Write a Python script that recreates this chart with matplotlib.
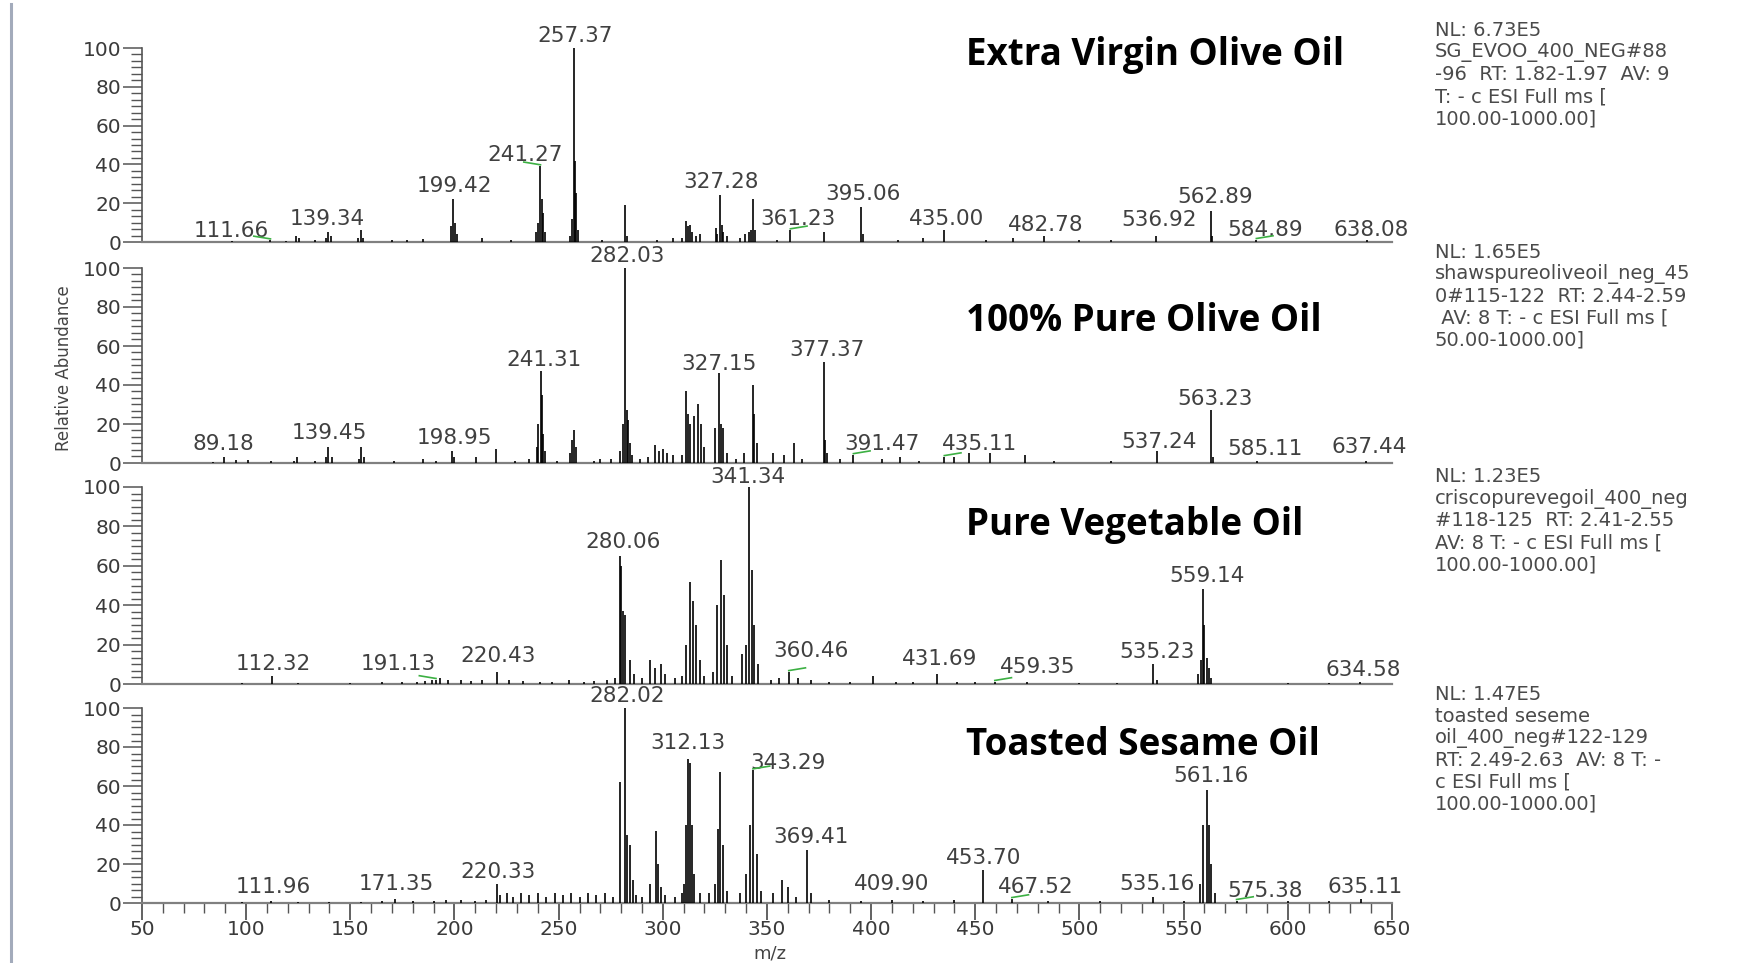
import matplotlib
matplotlib.use("Agg")
import matplotlib.pyplot as plt
from matplotlib.ticker import MultipleLocator
from matplotlib.lines import Line2D

# ---------------- DATA ----------------
titles = ["Extra Virgin Olive Oil", "100% Pure Olive Oil", "Pure Vegetable Oil", "Toasted Sesame Oil"]

info_texts = [
    ["NL: 6.73E5", "SG_EVOO_400_NEG#88", "-96  RT: 1.82-1.97  AV: 9", "T: - c ESI Full ms [", "100.00-1000.00]"],
    ["NL: 1.65E5", "shawspureoliveoil_neg_45", "0#115-122  RT: 2.44-2.59", " AV: 8 T: - c ESI Full ms [", "50.00-1000.00]"],
    ["NL: 1.23E5", "criscopurevegoil_400_neg", "#118-125  RT: 2.41-2.55", "AV: 8 T: - c ESI Full ms [", "100.00-1000.00]"],
    ["NL: 1.47E5", "toasted seseme", "oil_400_neg#122-129", "RT: 2.49-2.63  AV: 8 T: -", "c ESI Full ms [", "100.00-1000.00]"],
]

x_ticks = [50, 100, 150, 200, 250, 300, 350, 400, 450, 500, 550, 600, 650]
y_ticks = [0, 20, 40, 60, 80, 100]

evoo_mz = [
    93.0, 111.66, 119.0, 124.0, 125.2, 133.0, 138.2, 139.34, 140.5, 153.8,
    155.0, 156.2, 170.0, 177.0, 185.0, 198.4, 199.42, 200.4, 201.4, 213.0,
    227.0, 239.3, 240.3, 241.27, 241.8, 242.3, 243.3, 255.3, 256.4, 257.37,
    257.8, 258.4, 259.4, 271.0, 282.03, 283.0, 297.0, 305.0, 309.0, 311.3,
    312.2, 313.2, 314.0, 316.0, 318.0, 325.3, 326.2, 327.28, 328.2, 329.0,
    331.0, 337.0, 339.5, 341.2, 342.2, 343.3, 344.2, 355.0, 361.23, 377.3,
    395.06, 396.0, 413.0, 425.0, 435.0, 455.0, 468.0, 482.78, 500.0, 515.0,
    536.92, 562.89, 563.8, 584.89, 638.08]
evoo_int = [
    0.5, 0.8, 0.5, 3, 2, 1, 2, 5, 3, 2,
    6, 2, 1, 1, 1.5, 8, 22, 10, 4, 2,
    1, 5, 10, 39, 22, 15, 5, 3, 12, 100,
    42, 25, 6, 1, 19, 3, 1, 2, 2, 11,
    8, 9, 5, 3, 4, 7, 4, 24, 9, 5,
    3, 2, 4, 5, 6, 22, 6, 1, 6, 5,
    18, 4, 1, 2, 6, 1, 2, 3, 1, 1,
    3, 16, 3, 1, 1]

pure_mz = [
    84.0, 89.18, 95.0, 101.0, 112.0, 123.0, 124.5, 133.0, 138.3, 139.45,
    141.0, 154.0, 155.2, 156.5, 171.0, 185.0, 191.0, 198.95, 200.0, 210.5,
    220.0, 229.0, 236.0, 239.5, 240.3, 241.31, 241.8, 242.5, 243.5, 249.0,
    255.5, 256.5, 257.3, 258.2, 267.0, 270.0, 275.0, 279.5, 281.0, 282.03,
    282.6, 283.3, 284.0, 285.0, 289.0, 293.0, 296.0, 298.0, 300.0, 302.0,
    305.0, 309.0, 311.0, 312.0, 313.2, 315.0, 317.0, 318.2, 320.0, 325.0,
    327.15, 328.0, 329.0, 331.0, 335.0, 339.0, 343.4, 344.0, 345.0, 353.0,
    358.0, 363.0, 367.0, 377.37, 378.0, 379.0, 385.0, 391.47, 405.0, 414.0,
    423.0, 435.11, 440.0, 447.0, 457.0, 474.0, 488.0, 515.0, 537.24, 563.23,
    564.0, 585.11, 637.44]
pure_int = [
    0.5, 3, 1.5, 1.5, 0.8, 1, 3, 1, 3, 8,
    3, 2, 8, 3, 1, 2, 1, 6, 3, 3,
    7, 1, 2, 8, 20, 47, 35, 15, 6, 1,
    5, 12, 17, 8, 1, 2, 2, 6, 20, 100,
    27, 22, 10, 4, 2, 3, 9, 6, 7, 5,
    4, 4, 37, 25, 20, 24, 30, 20, 8, 18,
    46, 20, 18, 5, 2, 5, 40, 25, 10, 5,
    4, 10, 2, 52, 12, 5, 2, 4, 2, 3,
    1, 3, 3, 5, 5, 4, 1, 1, 6, 27,
    3, 1, 1]

veg_mz = [
    98.0, 112.32, 125.0, 150.0, 165.0, 175.0, 182.0, 186.0, 189.0, 191.13,
    193.0, 197.0, 203.0, 208.0, 213.0, 220.43, 226.0, 233.0, 241.0, 247.0,
    255.0, 262.0, 267.0, 273.0, 277.0, 279.6, 280.06, 281.0, 282.0, 284.0,
    286.0, 290.0, 294.0, 296.0, 299.0, 301.0, 306.0, 309.0, 311.0, 313.0,
    314.5, 316.0, 318.0, 320.0, 324.0, 326.0, 327.8, 329.5, 331.0, 333.0,
    338.0, 340.0, 341.34, 343.0, 344.0, 345.6, 352.0, 356.0, 360.46, 365.0,
    371.0, 380.0, 390.0, 401.0, 412.0, 420.0, 431.69, 441.0, 450.0, 459.35,
    475.0, 500.0, 518.0, 535.23, 537.0, 557.0, 558.2, 559.14, 559.8, 561.0,
    562.0, 563.0, 600.0, 620.0, 634.58]
veg_int = [
    0.5, 4, 0.5, 0.5, 1, 1, 1, 1.5, 2, 2,
    3, 2, 2, 1.5, 2, 6, 2, 1.5, 1, 1,
    2, 1, 1.5, 2, 3, 65, 60, 37, 35, 12,
    5, 3, 12, 8, 10, 5, 3, 4, 20, 52,
    42, 30, 12, 4, 6, 40, 63, 45, 20, 4,
    15, 20, 100, 58, 30, 10, 2, 3, 6, 3,
    2, 1, 1, 4, 1, 1, 5, 1, 1, 1,
    1, 0.5, 0.5, 10, 2, 5, 12, 48, 30, 13,
    8, 3, 0.5, 0.5, 1]

sesame_mz = [
    98.0, 111.96, 125.0, 140.0, 155.0, 165.0, 171.35, 180.0, 190.0, 196.0,
    203.0, 210.0, 215.0, 220.33, 222.0, 225.0, 228.0, 232.0, 236.0, 240.0,
    244.0, 248.0, 252.0, 256.0, 260.0, 264.0, 268.0, 272.0, 276.0, 279.4,
    282.02, 283.0, 284.4, 285.5, 287.0, 290.0, 294.0, 296.5, 297.5, 299.0,
    301.0, 306.0, 309.0, 310.0, 311.3, 312.13, 313.0, 314.0, 315.0, 318.0,
    322.0, 325.0, 326.3, 327.5, 329.0, 331.0, 337.0, 340.0, 342.0, 343.29,
    345.0, 347.0, 353.0, 357.0, 360.0, 364.0, 369.41, 371.0, 380.0, 395.0,
    409.9, 425.0, 440.0, 453.7, 467.52, 485.0, 510.0, 535.16, 550.0, 558.0,
    559.5, 561.16, 562.2, 563.0, 565.0, 575.38, 600.0, 620.0, 635.11]
sesame_int = [
    0.5, 1, 0.5, 0.5, 0.5, 1, 2, 1, 1, 1.5,
    1.5, 1, 1.5, 10, 4, 5, 3, 5, 4, 5,
    3, 5, 4, 5, 3, 5, 4, 5, 3, 62,
    100, 35, 30, 12, 4, 3, 10, 37, 20, 8,
    4, 3, 5, 10, 40, 74, 72, 40, 15, 5,
    5, 10, 38, 67, 30, 6, 5, 15, 40, 68,
    25, 6, 5, 12, 8, 3, 27, 5, 1.5, 1,
    1.5, 1, 1.5, 17, 2, 1, 1, 3, 1, 10,
    40, 58, 40, 20, 5, 1, 1, 1, 2]

evoo_labels = ["111.66", "139.34", "199.42", "241.27", "257.37", "327.28", "361.23",
               "395.06", "435.00", "482.78", "536.92", "562.89", "584.89", "638.08"]
pure_labels = ["89.18", "139.45", "198.95", "241.31", "282.03", "327.15", "377.37",
               "391.47", "435.11", "537.24", "563.23", "585.11", "637.44"]
veg_labels = ["112.32", "191.13", "220.43", "280.06", "341.34", "360.46", "431.69",
              "459.35", "535.23", "559.14", "634.58"]
sesame_labels = ["111.96", "171.35", "220.33", "282.02", "312.13", "343.29", "369.41",
                 "409.90", "453.70", "467.52", "535.16", "561.16", "575.38", "635.11"]

# ---------------- LAYOUT ----------------
evoo_label_pos = [(93, 5.7), (139, 12), (200, 29), (234, 45), (258, 106), (328, 31), (365, 12),
                  (396, 25), (436, 12), (484, 9), (538, 11.5), (565, 23), (589, 6), (640, 6)]
pure_label_pos = [(89, 10), (140, 15.5), (200, 13), (243, 53), (283, 106), (327, 51), (379, 58),
                  (405, 10), (452, 10), (538, 11), (565, 33), (589, 7), (639, 8)]
veg_label_pos = [(113, 10), (173, 10), (221, 14), (281, 72), (341, 105), (371, 17), (433, 12.5),
                 (480, 8.5), (537, 16), (561, 55), (636, 7)]
sesame_label_pos = [(113, 8), (172, 10), (221, 16), (283, 106), (312, 82), (360, 72), (371, 34),
                    (410, 10), (454, 23), (479, 8), (537, 10), (563, 65), (589, 6), (637, 8)]
green_marks = [{"111.66", "241.27", "361.23", "584.89"},
               {"391.47", "435.11"},
               {"191.13", "360.46", "459.35"},
               {"343.29", "467.52", "575.38"}]

panels = [
    (evoo_mz, evoo_int, evoo_labels, evoo_label_pos),
    (pure_mz, pure_int, pure_labels, pure_label_pos),
    (veg_mz, veg_int, veg_labels, veg_label_pos),
    (sesame_mz, sesame_int, sesame_labels, sesame_label_pos),
]

W, H = 1749, 963
fig = plt.figure(figsize=(W / 100, H / 100), dpi=100)
fig.patch.set_facecolor("white")

def fx(px):
    return px / W

def fy(py):
    return 1 - py / H

panel_px = [(48, 242), (268, 463), (487, 684), (708, 903)]
x_left, x_right = 142, 1392
title_base = [65, 331, 535, 755]
info_top = [31, 252, 477, 694]
line_step = 22

num_font = "DejaVu Sans"
tick_color = "#3a3a3a"
label_color = "#404040"

for i, ((mz, inten, labels, lpos), (top, base)) in enumerate(zip(panels, panel_px)):
    ax = fig.add_axes([fx(x_left), fy(base), (x_right - x_left) / W, (base - top) / H])
    ax.set_xlim(50, 650)
    ax.set_ylim(0, 100)
    ax.patch.set_alpha(0)
    ax.vlines(mz, 0, inten, color="black", lw=1.2, clip_on=False, zorder=3)

    for s in ["top", "right"]:
        ax.spines[s].set_visible(False)
    ax.spines["left"].set_color("#555555")
    ax.spines["left"].set_linewidth(1.2)
    ax.spines["bottom"].set_color("#808080")
    ax.spines["bottom"].set_linewidth(1.6)

    ax.set_yticks(y_ticks)
    ax.yaxis.set_minor_locator(MultipleLocator(20 / 6))
    ax.tick_params(axis="y", which="major", length=14, width=1.1, color="#555555",
                   labelsize=14.5, labelcolor=tick_color, pad=1)
    ax.tick_params(axis="y", which="minor", length=8, width=1.0, color="#555555")
    for t in ax.get_yticklabels():
        t.set_fontfamily(num_font)

    if i < 3:
        ax.tick_params(axis="x", which="both", bottom=False, labelbottom=False)
    else:
        ax.set_xticks(x_ticks)
        ax.xaxis.set_minor_locator(MultipleLocator(10))
        ax.tick_params(axis="x", which="major", direction="out", length=12, width=1.3,
                       color="#555555", labelsize=14.5, labelcolor=tick_color, pad=0)
        ax.tick_params(axis="x", which="minor", direction="out", length=7, width=1.0,
                       color="#555555")
        for t in ax.get_xticklabels():
            t.set_fontfamily(num_font)

    peak_lookup = {}
    for m, v in zip(mz, inten):
        peak_lookup[round(m, 2)] = v
    for txt, (lx, ly) in zip(labels, lpos):
        ax.text(lx, ly, txt, ha="center", va="center", fontsize=15.5, color=label_color,
                family=num_font, clip_on=False, zorder=4)
        if txt in green_marks[i]:
            pm = float(txt)
            ph = peak_lookup.get(round(pm, 2), 1)
            sign = 1 if lx > pm else -1
            ax.plot([pm, pm + sign * 8], [ph + 0.8, ph + 2.2], color="#3cb043", lw=1.2,
                    clip_on=False, zorder=4)

    fig.text(fx(966), fy(title_base[i]), titles[i], ha="left", va="baseline",
             fontsize=26.5, fontweight="bold", family="Open Sans", color="black")

    for j, line in enumerate(info_texts[i]):
        fig.text(fx(1435), fy(info_top[i] + j * line_step), line, ha="left", va="center",
                 fontsize=14, family=num_font, color="#4a4a4a")

fig.text(fx(64), fy(368), "Relative Abundance", rotation=90, ha="center", va="center",
         fontsize=12, family=num_font, color="#444444")
fig.text(fx(770), fy(953), "m/z", ha="center", va="center", fontsize=13,
         family=num_font, color="#444444")

fig.add_artist(Line2D([fx(11), fx(11)], [fy(4), fy(961)], color="#a3abbb", lw=2.2))

fig.savefig("out.png", dpi=100, facecolor="white")
